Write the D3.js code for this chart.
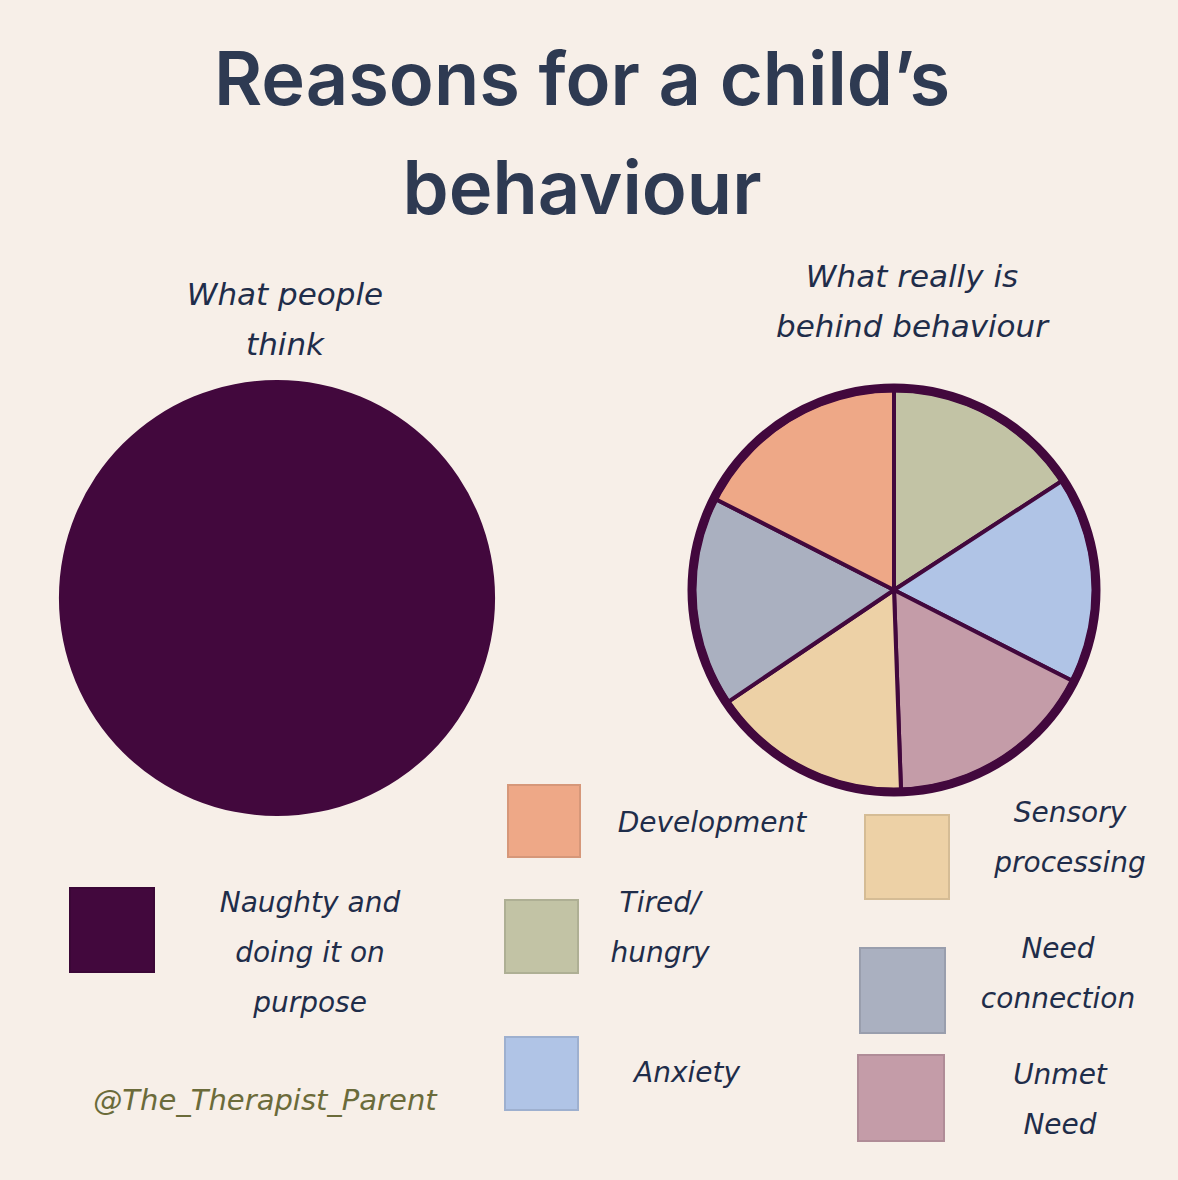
<!DOCTYPE html>
<html><head><meta charset="utf-8">
<script src="https://cdn.jsdelivr.net/npm/d3@7"></script>
<style>body{margin:0;background:#f7efe8}</style>
</head><body>
<svg id="chart" width="1178" height="1180"></svg>
<script>
// data
var leftCategories = ["Naughty and doing it on purpose"];
var leftValues = [100];
var leftColors = ["#42083d"];

var rightCategories = ["Tired/ hungry", "Anxiety", "Unmet Need", "Sensory processing", "Need connection", "Development"];
var rightValues = [57, 60, 61, 58, 61, 63];
var rightColors = ["#c2c3a5", "#b0c4e6", "#c49ca8", "#edd1a6", "#aab0c0", "#eea887"];

var svg = d3.select("#chart");
svg.append("rect").attr("width", 1178).attr("height", 1180).attr("fill", "#f7efe8");

var navy = "#2e3a52";
var hand = "'DejaVu Sans', sans-serif";

// title
svg.append("text").attr("x", 582).attr("y", 105).attr("text-anchor", "middle")
    .attr("font-family", "Inter, 'Open Sans', sans-serif").attr("font-weight", 600)
    .attr("font-size", 74).attr("fill", navy).text("Reasons for a child\u2019s");
svg.append("text").attr("x", 582).attr("y", 214).attr("text-anchor", "middle")
    .attr("font-family", "Inter, 'Open Sans', sans-serif").attr("font-weight", 600)
    .attr("font-size", 74).attr("fill", navy).text("behaviour");

function label(x, y, lines, size, anchor, color) {
    var t = svg.append("text").attr("font-family", hand).attr("font-style", "italic")
        .attr("font-size", size).attr("fill", color || "#1f2d4a")
        .attr("text-anchor", anchor || "middle");
    lines.forEach((l, i) => {
        t.append("tspan").attr("x", x).attr("y", y + i * size * 1.6).text(l);
    });
}

label(285, 305, ["What people", "think"], 31);
label(912, 287, ["What really is", "behind behaviour"], 31);

var pie = d3.pie().sort(null);

// left pie
var leftArc = d3.arc().innerRadius(0).outerRadius(218);
svg.append("g").attr("transform", "translate(277,598)")
    .selectAll("path").data(pie(leftValues)).join("path")
    .attr("d", leftArc).attr("fill", (d, i) => leftColors[i]);

// right pie
var rightArc = d3.arc().innerRadius(0).outerRadius(200);
var rg = svg.append("g").attr("transform", "translate(894,590)");
rg.selectAll("path").data(pie(rightValues)).join("path")
    .attr("d", rightArc).attr("fill", (d, i) => rightColors[i])
    .attr("stroke", "#42083d").attr("stroke-width", 4);
rg.append("circle").attr("r", 202).attr("fill", "none")
    .attr("stroke", "#42083d").attr("stroke-width", 9);

// legend
var legend = [
    {c: leftColors[0], x: 70, y: 888, s: 84, lx: 310, ly: 912, lines: ["Naughty and", "doing it on", "purpose"]},
    {c: rightColors[5], x: 508, y: 785, s: 72, lx: 712, ly: 832, lines: ["Development"]},
    {c: rightColors[0], x: 505, y: 900, s: 73, lx: 660, ly: 912, lines: ["Tired/", "hungry"]},
    {c: rightColors[1], x: 505, y: 1037, s: 73, lx: 687, ly: 1082, lines: ["Anxiety"]},
    {c: rightColors[3], x: 865, y: 815, s: 84, lx: 1070, ly: 822, lines: ["Sensory", "processing"]},
    {c: rightColors[4], x: 860, y: 948, s: 85, lx: 1058, ly: 958, lines: ["Need", "connection"]},
    {c: rightColors[2], x: 858, y: 1055, s: 86, lx: 1060, ly: 1084, lines: ["Unmet", "Need"]}
];
legend.forEach(d => {
    svg.append("rect").attr("x", d.x).attr("y", d.y).attr("width", d.s).attr("height", d.s)
        .attr("fill", d.c).attr("stroke", d3.color(d.c).darker(0.3)).attr("stroke-width", 2);
    var t = svg.append("text").attr("font-family", hand).attr("font-style", "italic")
        .attr("font-size", 28).attr("fill", "#1f2d4a").attr("text-anchor", "middle");
    d.lines.forEach((l, i) => {
        t.append("tspan").attr("x", d.lx).attr("y", d.ly + i * 50).text(l);
    });
});

label(265, 1110, ["@The_Therapist_Parent"], 29, "middle", "#6b6b3a");
</script>
</body></html>
